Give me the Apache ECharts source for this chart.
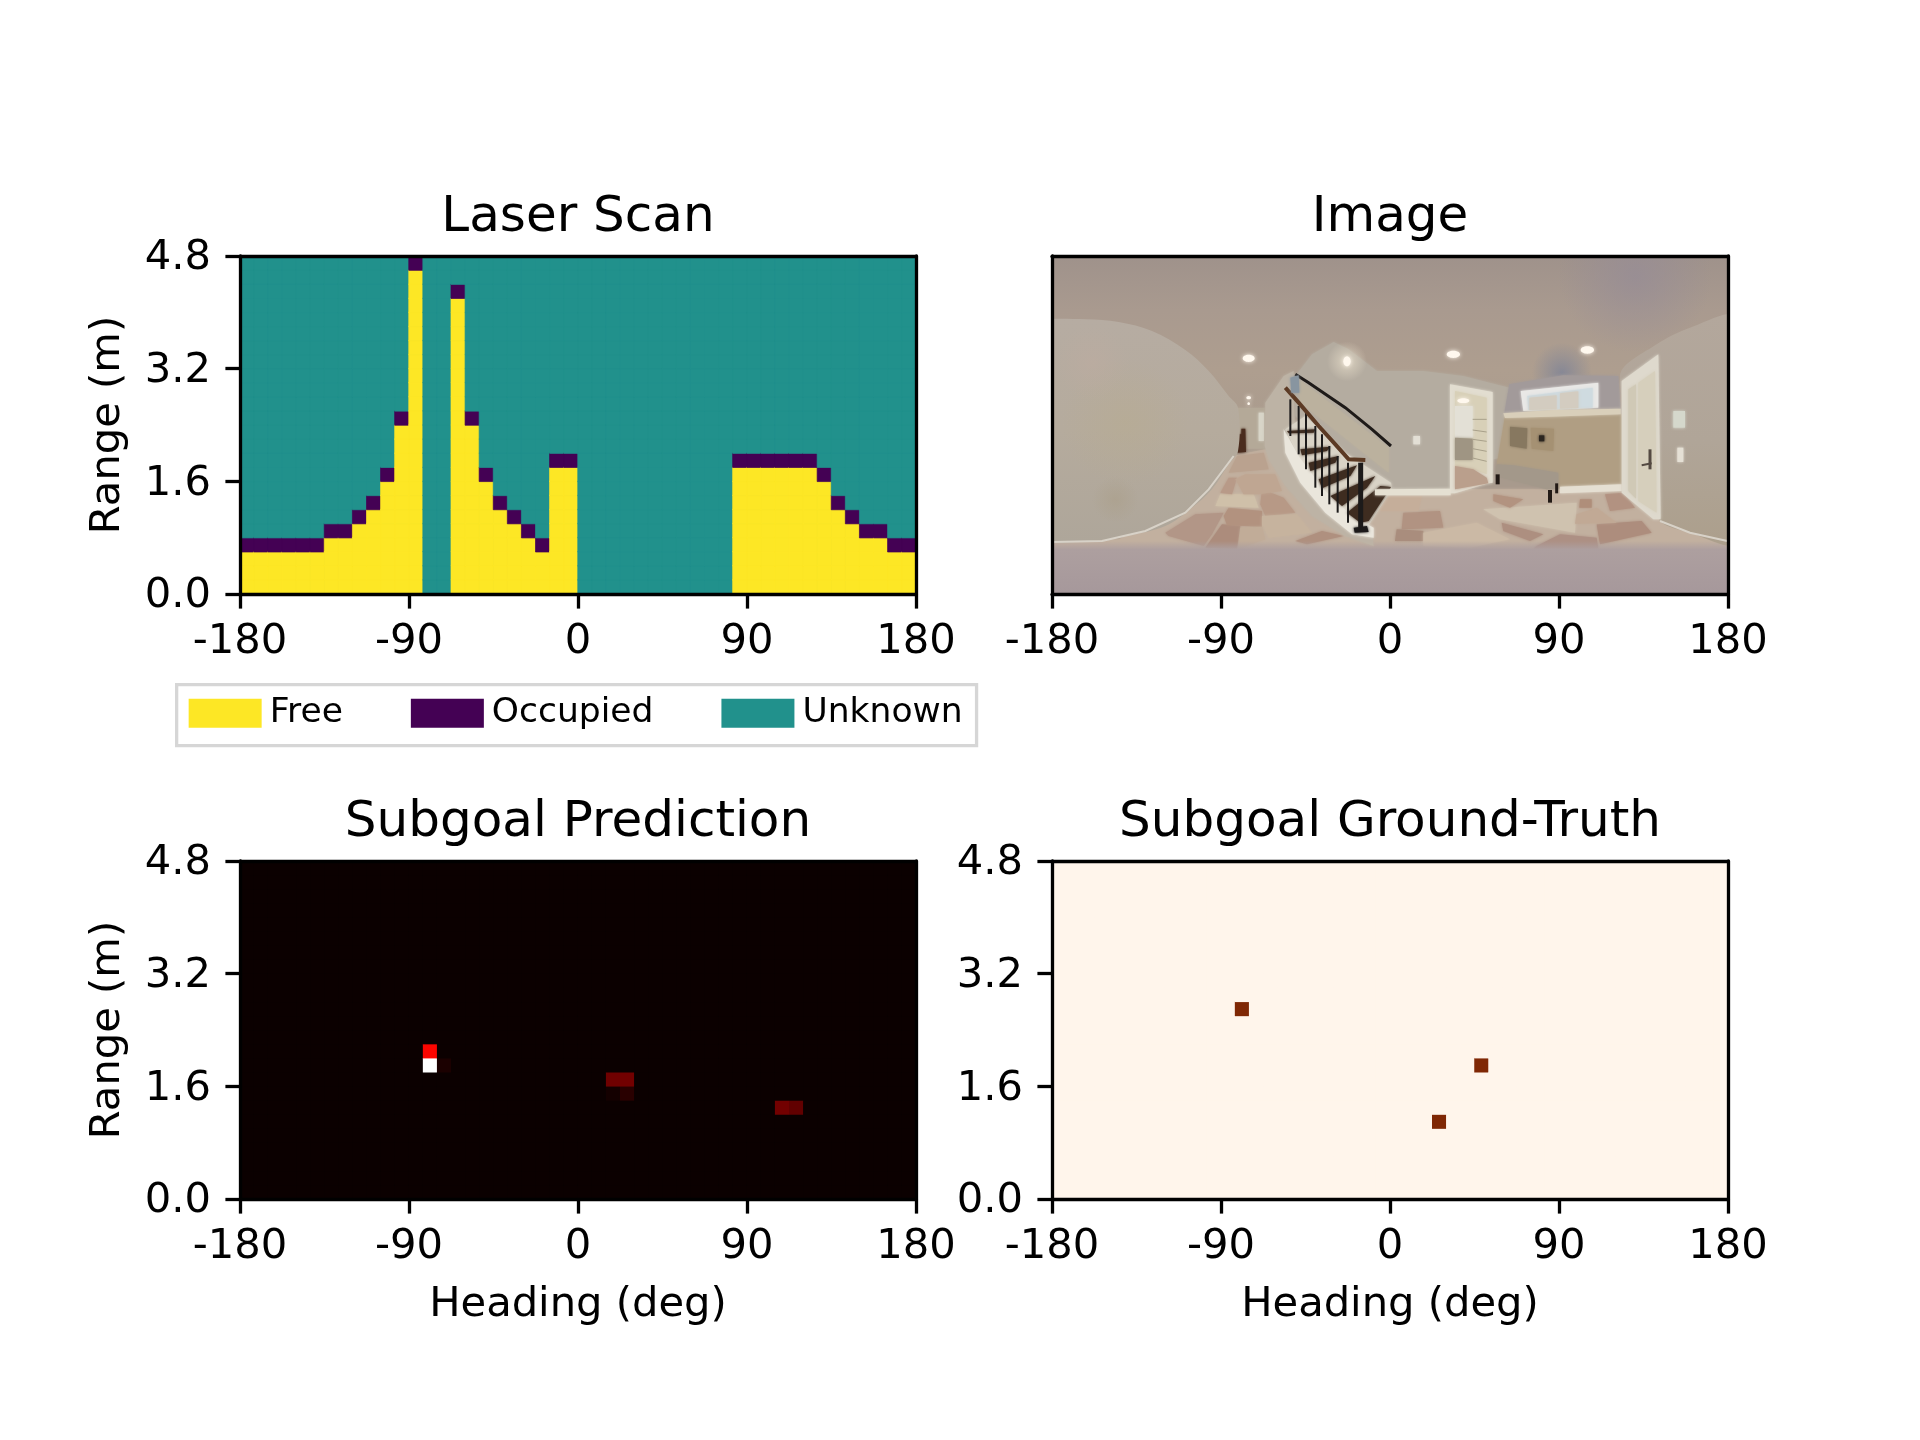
<!DOCTYPE html>
<html>
<head>
<meta charset="utf-8">
<title>Laser scan and subgoals</title>
<script src="https://cdn.jsdelivr.net/npm/echarts@6/dist/echarts.min.js"></script>
<style>
html,body{margin:0;padding:0;background:#fff;}
#chart{width:1920px;height:1440px;}
</style>
</head>
<body>
<div id="chart"></div>
<script>
var headingTicks = [-180, -90, 0, 90, 180];
var rangeTicks = [0, 1.6, 3.2, 4.8];
var headingBinCount = 48;
var rangeBinCount = 24;

// laser return per heading bin: number of free cells below the hit, null = no return
var laserHits = [3,3,3,3,3,3,4,4,5,6,8,12,23,null,null,21,12,8,6,5,4,3,9,9,
  null,null,null,null,null,null,null,null,null,null,null,
  9,9,9,9,9,9,8,6,5,4,4,3,3];
// [heading bin, range bin, value]
var predictionCells = [[13,9,1],[13,10,0.37],[14,9,0.024],[26,8,0.15],[27,8,0.155],[26,7,0.014],[27,7,0.045],[38,6,0.155],[39,6,0.13]];
var truthCells = [[13,13,1],[30,9,1],[27,5,1]];

var cellState = {free:0, occupied:1, unknown:2};
var stateColors = ['#fde725','#440154','#21918c'];
var hotColors = ['#0b0000','#5e0000','#b20000','#ff0500','#ff5a00','#ffae00','#ffff02','#ffff80','#ffffff'];

var FONT = '"DejaVu Sans"';
var LINE = 3.3;

// ---- the photo panel: it is a photograph, so this is a hand sketch of it,
// outlines in photo pixels (2028 x 1014), drawn through the panel's axes
function R(pts){return pts.map(function(p){return [p[0]+1014,p[1]];});}
function vgrad(stops){
  return {type:'linear',x:0,y:0,x2:0,y2:1,colorStops:stops.map(function(s){return {offset:s[0],color:s[1]};})};
}
var sketch = [
  {fill:vgrad([[0,'#9f928b'],[0.16,'#a99a8f'],[0.34,'#ae9e8f'],[0.6,'#a89a8d'],[1,'#a89a8d']]),pts:[[0,0],[2028,0],[2028,1014],[0,1014]]},
  {glow:[1750,60,520,230],color:[150,140,150,0.75]},
  {glow:[1530,350,330,90],color:[128,132,150,0.85]},
  {fill:'#c2b09f',pts:[[0,880],[0,855],[200,850],[400,760],[540,600],[640,580],[800,760],[980,700],[2028,700],[2028,880]]},
  // tiles
  {fill:'#b29687',pts:[[340,830],[430,775],[515,770],[480,835],[455,870],[350,840]]},
  {fill:'#ac8c7c',pts:[[460,875],[510,805],[565,810],[555,878]]},
  {fill:'#b2927f',pts:[[515,780],[530,755],[630,765],[630,812],[525,808]]},
  {fill:'#cfc0a9',pts:[[490,750],[505,715],[605,715],[620,755]]},
  {fill:'#b89a88',pts:[[505,710],[530,665],[555,665],[540,715]]},
  {fill:'#b79986',pts:[[625,745],[630,700],[695,725],[730,770],[640,780]]},
  {fill:'#c6b39e',pts:[[630,780],[735,775],[780,830],[650,845],[630,810]]},
  {fill:'#af907f',pts:[[730,855],[810,825],[875,840],[765,865]]},
  {fill:'#c1ac98',pts:[[565,815],[630,812],[640,850],[560,878]]},
  {fill:'#bfa692',pts:[[550,670],[580,655],[670,655],[690,705],[620,715],[575,715]]},
  {fill:'#baa28f',pts:[[555,600],[635,590],[650,640],[530,650]]},
  {fill:'#b19382',pts:R([[40,770],[150,765],[160,815],[35,820]])},
  {fill:'#a98d7d',pts:R([[20,820],[100,825],[100,855],[15,855]])},
  {fill:'#cbb9a5',pts:R([[100,830],[260,800],[360,850],[240,875],[100,870]])},
  {fill:'#c5ae9a',pts:R([[-40,720],[95,720],[85,765],[-30,765]])},
  {fill:'#cfc2af',pts:R([[280,760],[560,740],[555,830],[330,790]])},
  {fill:'#ad8f80',pts:R([[335,800],[460,835],[420,855],[340,825]])},
  {fill:'#ad8d7d',pts:R([[620,805],[755,795],[785,830],[630,865]])},
  {fill:'#ad9084',pts:R([[440,870],[510,835],[620,845],[625,878],[430,878]])},
  {fill:'#b29380',pts:R([[310,715],[400,730],[360,755],[310,735]])},
  {fill:'#b29281',pts:R([[645,715],[700,710],[735,755],[660,765]])},
  {fill:'#c1a995',pts:R([[560,775],[620,755],[680,800],[555,803]])},
  {fill:'#af8e7a',pts:R([[570,730],[605,730],[605,755],[568,755]])},
  // bottom band, fades in over the floor
  {fill:vgrad([[0,'rgba(172,158,158,0)'],[0.16,'#ad9f9f'],[0.4,'#ab9d9e'],[1,'#a6989b']]),pts:[[0,855],[2028,855],[2028,1014],[0,1014]]},
  // hallway
  {fill:'#b4a998',pts:[[555,455],[638,455],[638,578],[555,578]]},
  {fill:'#d8d5c8',pts:[[620,470],[636,470],[636,555],[620,555]]},
  {fill:'#4a2c1e',pts:[[556,535],[568,535],[568,518],[580,518],[582,588],[556,590]]},
  // left wall
  {smooth:0.35,fill:vgrad([[0,'#b6aca2'],[0.5,'#b5ab9d'],[1,'#aea69a']]),pts:[[-60,200],[-30,190],[100,190],[200,198],[300,225],[400,282],[470,345],[530,420],[558,455],[558,585],[530,625],[480,700],[420,755],[340,810],[230,838],[120,855],[-30,860],[-60,850]]},
  {glow:[220,500,190,190],color:[184,172,142,0.45]},
  {glow:[120,320,130,110],color:[190,172,160,0.5]},
  {glow:[190,730,110,70],color:[170,158,136,0.55]},
  {stroke:'#d8d2c8',w:2,pts:[[0,858],[150,855],[280,825],[400,770],[470,700],[545,600]]},
  // wall round the stairs
  {fill:'#bdb3a5',pts:[[640,440],[695,360],[725,345],[730,600],[830,740],[960,835],[965,870],[880,840],[780,780],[700,690],[650,610],[638,570]]},
  // back wall with the stairs
  {fill:'#b4aca0',pts:[[730,360],[780,295],[845,258],[890,280],[975,345],[1014,345],[1114,345],[1234,360],[1372,395],[1372,600],[1324,610],[1320,680],[1194,708],[970,708],[900,640],[730,480]]},
  {fill:'#bbb19e',pts:[[740,370],[1010,575],[1010,650],[745,440]]},
  {fill:'#e3dfd5',pts:R([[70,540],[90,540],[90,565],[70,565]])},
  // stairs
  {fill:'#d9d3c6',pts:[[700,520],[760,480],[880,590],[1017,680],[1020,700],[945,815],[900,780],[815,700],[740,600]]},
  {fill:'#eae6dc',pts:[[695,520],[740,600],[815,700],[900,780],[965,815],[965,845],[900,835],[820,770],[745,680],[700,590]]},
  {fill:'#3e2c20',pts:[[885,770],[985,690],[1017,693],[950,795],[925,800]]},
  {fill:'#3e2c20',pts:[[835,720],[970,660],[945,695],[870,750]]},
  {fill:'#3e2c20',pts:[[800,670],[915,628],[895,660],[810,697]]},
  {fill:'#3e2c20',pts:[[770,620],[860,600],[850,620],[775,645]]},
  {fill:'#3e2c20',pts:[[745,580],[835,572],[825,585],[750,598]]},
  {fill:'#3e2c20',pts:[[705,525],[790,520],[785,530],[710,532]]},
  {stroke:'#1c1a1a',w:2,pts:[[715,430],[715,540]]},
  {stroke:'#1c1a1a',w:2,pts:[[740,450],[740,595]]},
  {stroke:'#1c1a1a',w:2,pts:[[762,470],[762,640]]},
  {stroke:'#1c1a1a',w:2,pts:[[790,510],[790,695]]},
  {stroke:'#1c1a1a',w:2,pts:[[810,535],[810,720]]},
  {stroke:'#1c1a1a',w:2,pts:[[832,570],[832,745]]},
  {stroke:'#1c1a1a',w:2,pts:[[857,600],[857,770]]},
  {stroke:'#1c1a1a',w:2,pts:[[888,620],[888,800]]},
  {stroke:'#1c1a1a',w:5,pts:[[926,620],[926,815]]},
  {fill:'#1c1a1a',pts:[[905,815],[945,810],[950,828],[908,830]]},
  {stroke:'#5c3a24',w:4,pts:[[700,395],[740,440],[800,510],[850,565],[890,610],[940,612]]},
  {stroke:'#1e1a18',w:3,pts:[[730,355],[770,380],[880,455],[960,520],[1017,570]]},
  {fill:'#8895a0',pts:[[715,365],[740,358],[742,410],[718,410]]},
  // window wall
  {fill:'#a29a9a',pts:R([[358,385],[520,358],[685,360],[692,470],[342,478]])},
  {fill:'#e9e8e6',pts:R([[392,405],[625,380],[625,455],[400,465]])},
  {fill:'#cfdbe0',pts:R([[412,420],[608,395],[608,455],[415,462]])},
  {fill:'#d3ccc0',pts:R([[418,425],[500,418],[500,460],[418,462]])},
  {fill:'#d3ccc0',pts:R([[510,412],[565,406],[565,456],[510,458]])},
  {fill:'#b09e83',pts:R([[345,480],[695,475],[695,688],[510,697],[320,628]])},
  {fill:'#d9cfba',pts:R([[340,472],[490,462],[692,458],[692,475],[480,482],[345,486]])},
  {fill:'#877860',pts:R([[360,512],[412,517],[410,578],[360,570]])},
  {fill:'#a59173',pts:R([[422,515],[492,518],[490,585],[425,578]])},
  {fill:'#2c2620',pts:R([[447,538],[463,538],[463,556],[447,556]])},
  {fill:'#e5dfd2',pts:R([[510,692],[695,685],[695,705],[510,712]])},
  // closet
  {fill:'#e2ddd0',pts:R([[180,385],[308,408],[308,680],[295,682],[195,712],[180,712]])},
  {fill:'#d8d0b8',pts:R([[195,405],[290,425],[290,655],[250,640],[195,630]])},
  {fill:'#e3e0d6',pts:R([[195,450],[248,450],[248,545],[195,545]])},
  {fill:'#9f9583',pts:R([[195,545],[248,548],[248,612],[195,612]])},
  {fill:'#ba9f8c',pts:R([[195,630],[250,640],[290,665],[295,682],[195,700]])},
  {stroke:'#a8a08a',w:1,pts:R([[248,490],[290,490]])},
  {stroke:'#a8a08a',w:1,pts:R([[248,522],[290,528]])},
  {stroke:'#a8a08a',w:1,pts:R([[248,550],[290,556]])},
  {stroke:'#a8a08a',w:1,pts:R([[248,578],[290,586]])},
  {stroke:'#a8a08a',w:1,pts:R([[248,606],[290,616]])},
  {fill:'#e5e0d2',pts:R([[-45,700],[182,698],[182,718],[-45,718]])},
  // bench
  {fill:'#a3988a',pts:R([[320,625],[370,628],[505,650],[505,700],[470,700],[315,660]])},
  {stroke:'#221a16',w:4,pts:R([[323,655],[323,685]])},
  {stroke:'#221a16',w:4,pts:R([[480,702],[480,740]])},
  {stroke:'#221a16',w:3,pts:R([[500,682],[500,712]])},
  // right wall and door
  {smooth:0.3,fill:vgrad([[0,'#b3a79c'],[0.55,'#b0a598'],[1,'#ac9f8c']]),pts:R([[690,360],[800,265],[900,215],[1040,185],[1040,858],[900,830],[810,795],[780,700]])},
  {stroke:'#d8d2c8',w:2,pts:R([[810,795],[900,830],[1012,855]])},
  {fill:'#ded9cd',pts:R([[695,375],[805,295],[812,790],[790,790],[695,710]])},
  {fill:'#d0c9b6',pts:R([[715,400],[738,385],[738,728],[715,705]])},
  {fill:'#d6cfbc',pts:R([[745,380],[795,345],[800,770],[745,735]])},
  {stroke:'#544a42',w:3,pts:R([[780,580],[780,640]])},
  {stroke:'#544a42',w:2,pts:R([[755,628],[785,622]])},
  {fill:'#d5d8cc',pts:R([[850,465],[885,465],[885,515],[850,515]])},
  {fill:'#e5e0d5',pts:R([[862,575],[880,575],[880,618],[862,618]])},
  // lights
  {glow:[885,316,60,60],color:[235,225,205,0.7]},
  {light:[590,307,18,11]},
  {light:[590,425,7,5]},
  {light:[590,443,4,4]},
  {light:[885,316,11,15]},
  {light:[1204,295,20,11]},
  {light:[1606,282,20,11]},
  {light:[1234,434,18,7]}
];

function photoToAxis(u, v){
  return [-180 + u / 2028 * 360, 4.8 * (1014 - v) / 1014];
}
function renderSketch(params, api){
  var it = sketch[params.dataIndex];
  function px(p){return api.coord(photoToAxis(p[0], p[1]));}
  if(it.light){
    var c = px(it.light);
    return {type:'ellipse',shape:{cx:c[0],cy:c[1],rx:it.light[2]/3,ry:it.light[3]/3},style:{fill:'#fff8ee',shadowBlur:4,shadowColor:'#fff8ee'}};
  }
  if(it.glow){
    var g = px(it.glow), rgb = it.color[0]+','+it.color[1]+','+it.color[2];
    return {type:'ellipse',shape:{cx:g[0],cy:g[1],rx:it.glow[2]/3,ry:it.glow[3]/3},style:{fill:{
      type:'radial',x:0.5,y:0.5,r:0.5,colorStops:[
        {offset:0,color:'rgba('+rgb+','+it.color[3]+')'},
        {offset:1,color:'rgba('+rgb+',0)'}]}}};
  }
  if(it.stroke){
    return {type:'polyline',shape:{points:it.pts.map(px)},style:{stroke:it.stroke,lineWidth:it.w,fill:null}};
  }
  // soft edge, the photo is blurry
  var soft = typeof it.fill === 'string' ? {shadowBlur:3,shadowColor:it.fill} : {};
  return {type:'polygon',shape:{points:it.pts.map(px),smooth:it.smooth||0},
    style:Object.assign({fill:it.fill},soft)};
}

// ---- cells
var headingBins = [], rangeBins = [], i, j;
for(i=0;i<headingBinCount;i++){headingBins.push(String(i));}
for(i=0;i<rangeBinCount;i++){rangeBins.push(String(i));}

var laserCells = [];
for(i=0;i<headingBinCount;i++){
  for(j=0;j<rangeBinCount;j++){
    var st = cellState.unknown;
    if(laserHits[i]!==null){
      if(j<laserHits[i]){st = cellState.free;}
      else if(j===laserHits[i]){st = cellState.occupied;}
    }
    // a thin border of the cell's own colour closes the seams between cells
    laserCells.push({value:[i,j,st],itemStyle:{borderWidth:0.7,borderColor:stateColors[st]}});
  }
}
function fillGrid(cells){
  var out = [], k, m;
  for(k=0;k<headingBinCount;k++){
    for(m=0;m<rangeBinCount;m++){out.push([k,m,0]);}
  }
  cells.forEach(function(c){out[c[0]*rangeBinCount+c[1]][2]=c[2];});
  return out;
}

// ---- layout
var panels = [
  {left:240,top:256,title:'Laser Scan',yName:'Range (m)',yLabels:true,bg:'#21918c'},
  {left:1052,top:256,title:'Image',yLabels:false,bg:'#a89a8d'},
  {left:240,top:861,title:'Subgoal Prediction',yName:'Range (m)',xName:'Heading (deg)',yLabels:true,bg:'#0b0000'},
  {left:1052,top:861,title:'Subgoal Ground-Truth',xName:'Heading (deg)',yLabels:true,bg:'#fff5eb'}
];
var panelW = 676, panelH = 338;
var xAxes = [], yAxes = [], grids = [], titles = [], cats = [], vals = [];

function spine(){return {onZero:false,lineStyle:{color:'#000',width:LINE}};}

panels.forEach(function(p,g){
  grids.push({left:p.left,top:p.top,width:panelW,height:panelH,show:true,backgroundColor:p.bg,borderWidth:0});
  titles.push({text:p.title,left:p.left+panelW/2-5,top:p.top-68,textAlign:'center',
    textStyle:{fontFamily:FONT,fontSize:50,fontWeight:'normal',color:'#000'}});

  cats[g] = {x:xAxes.length,y:yAxes.length};
  xAxes.push({type:'category',gridIndex:g,data:headingBins,show:false});
  yAxes.push({type:'category',gridIndex:g,data:rangeBins,show:false});

  vals[g] = {x:xAxes.length,y:yAxes.length};
  xAxes.push({type:'value',gridIndex:g,position:'bottom',min:-180,max:180,z:10,
    name:p.xName||'',nameLocation:'middle',nameGap:85,
    nameTextStyle:{fontFamily:FONT,fontSize:41.67,color:'#000'},
    axisLine:spine(),splitLine:{show:false},
    axisTick:{show:true,length:14.6,lineStyle:{color:'#000',width:LINE},customValues:headingTicks},
    axisLabel:{show:true,margin:27,fontFamily:FONT,fontSize:41.67,color:'#000',customValues:headingTicks,
      formatter:function(v){return String(v);}}});
  yAxes.push({type:'value',gridIndex:g,position:'left',min:0,max:4.8,z:10,
    name:p.yName||'',nameLocation:'middle',nameGap:111,
    nameTextStyle:{fontFamily:FONT,fontSize:41.67,color:'#000'},
    axisLine:spine(),splitLine:{show:false},
    axisTick:{show:p.yLabels,length:14.6,lineStyle:{color:'#000',width:LINE},customValues:rangeTicks},
    axisLabel:{show:p.yLabels,margin:29,customValues:rangeTicks,
      rich:{t:{fontFamily:FONT,fontSize:41.67,color:'#000',padding:[5,0,0,0]}},
      formatter:function(v){return '{t|'+v.toFixed(1)+'}';}}});

  // top and right spines
  xAxes.push({type:'value',gridIndex:g,position:'top',min:-180,max:180,z:10,axisLine:spine(),
    axisTick:{show:false},axisLabel:{show:false},splitLine:{show:false}});
  yAxes.push({type:'value',gridIndex:g,position:'right',min:0,max:4.8,z:10,axisLine:spine(),
    axisTick:{show:false},axisLabel:{show:false},splitLine:{show:false}});
});

var option = {
  animation:false,
  backgroundColor:'#ffffff',
  title:titles,
  grid:grids,
  xAxis:xAxes,
  yAxis:yAxes,
  visualMap:[
    {type:'piecewise',seriesIndex:0,dimension:2,orient:'horizontal',left:175,top:683,
     selectedMode:false,itemSymbol:'rect',itemWidth:73,itemHeight:29,itemGap:68,textGap:8,
     padding:[11,14,15,12],borderColor:'#d6d6d6',borderWidth:LINE,backgroundColor:'#fff',
     textStyle:{fontFamily:FONT,fontSize:34.5,color:'#000'},
     pieces:[
       {value:cellState.free,label:'Free',color:stateColors[cellState.free]},
       {value:cellState.occupied,label:'Occupied',color:stateColors[cellState.occupied]},
       {value:cellState.unknown,label:'Unknown',color:stateColors[cellState.unknown]}
     ]},
    {type:'continuous',seriesIndex:2,dimension:2,min:0,max:1,show:false,inRange:{color:hotColors}},
    {type:'continuous',seriesIndex:3,dimension:2,min:0,max:1,show:false,inRange:{color:['#fff5eb','#7f2704']}}
  ],
  series:[
    {name:'Laser Scan',type:'heatmap',xAxisIndex:cats[0].x,yAxisIndex:cats[0].y,data:laserCells,silent:true,progressive:0},
    {name:'Image',type:'custom',xAxisIndex:vals[1].x,yAxisIndex:vals[1].y,silent:true,clip:true,
      data:sketch.map(function(s,k){return [k];}),encode:{x:-1,y:-1},renderItem:renderSketch},
    {name:'Subgoal Prediction',type:'heatmap',xAxisIndex:cats[2].x,yAxisIndex:cats[2].y,data:fillGrid(predictionCells),silent:true,progressive:0},
    {name:'Subgoal Ground-Truth',type:'heatmap',xAxisIndex:cats[3].x,yAxisIndex:cats[3].y,data:fillGrid(truthCells),silent:true,progressive:0}
  ]
};

var chart = echarts.init(document.getElementById('chart'));
chart.setOption(option);
</script>
</body>
</html>
